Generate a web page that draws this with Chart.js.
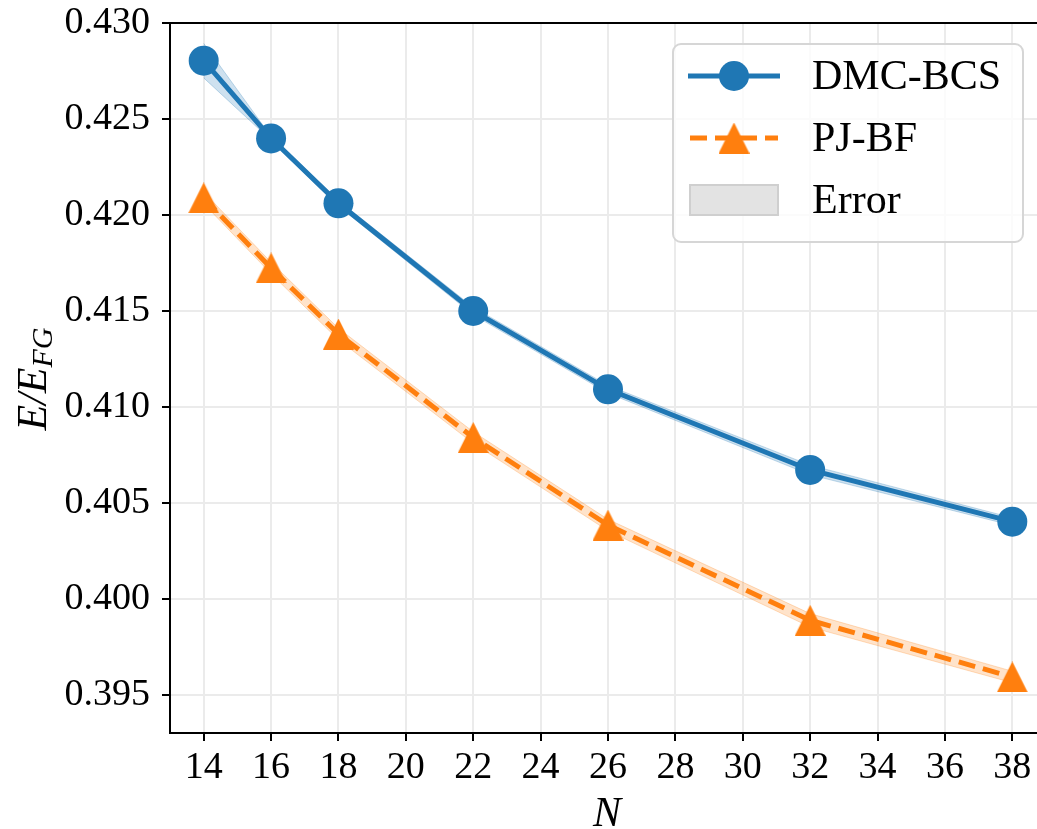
<!DOCTYPE html>
<html>
<head>
<meta charset="utf-8">
<script src="https://cdn.jsdelivr.net/npm/chart.js@4/dist/chart.umd.min.js"></script>
<style>
  html, body { margin: 0; padding: 0; background: #fff; overflow: hidden; }
  #wrap { width: 1037px; height: 829px; overflow: hidden; }
</style>
</head>
<body>
<div id="wrap"><canvas id="chart" width="1050" height="829"></canvas></div>
<script>
// data
const nValues = [14, 16, 18, 22, 26, 32, 38];
const dmcBcs = [0.42804, 0.42399, 0.42061, 0.41500, 0.41092, 0.40672, 0.40403];
const dmcErr = [0.0009, 0.0001, 0.00015, 0.0002, 0.0002, 0.00025, 0.0002];
const pjBf = [0.42089, 0.41724, 0.41380, 0.40841, 0.40385, 0.39889, 0.39594];
const pjErr = [0.0003, 0.0003, 0.0003, 0.0003, 0.0003, 0.00035, 0.0003];
const xTicks = [14, 16, 18, 20, 22, 24, 26, 28, 30, 32, 34, 36, 38];
const yTicks = [0.395, 0.400, 0.405, 0.410, 0.415, 0.420, 0.425, 0.430];

const BLUE = "#1f77b4";
const ORANGE = "#ff7f0e";
const SERIF = "'Liberation Serif', 'DejaVu Serif', serif";

// matplotlib-like "^" marker (as tall as it is wide)
function makeTriangle(size, color) {
  const c = document.createElement("canvas");
  c.width = size; c.height = size;
  const g = c.getContext("2d");
  g.fillStyle = color;
  g.beginPath();
  g.moveTo(size / 2, 0);
  g.lineTo(size, size);
  g.lineTo(0, size);
  g.closePath();
  g.fill();
  return c;
}
const triangle = makeTriangle(31, ORANGE);

const pts = (ys) => nValues.map((x, i) => ({ x: x, y: ys[i] }));
const shifted = (ys, err, sign) => ys.map((v, i) => v + sign * err[i]);

// axis titles, top spine and legend
const extras = {
  id: "extras",
  afterDraw(chart) {
    const ctx = chart.ctx;
    const a = chart.chartArea;
    ctx.save();

    // top spine
    ctx.strokeStyle = "#000";
    ctx.lineWidth = 2;
    ctx.beginPath();
    ctx.moveTo(a.left - 1, a.top);
    ctx.lineTo(a.right + 1, a.top);
    ctx.stroke();

    // x title
    ctx.fillStyle = "#000";
    ctx.font = "italic 42px " + SERIF;
    ctx.textAlign = "center";
    ctx.textBaseline = "alphabetic";
    ctx.fillText("N", 607, 826);

    // y title E/E_FG
    ctx.save();
    ctx.translate(46, 379);
    ctx.rotate(-Math.PI / 2);
    ctx.font = "italic 42px " + SERIF;
    const main = "E/E";
    const wMain = ctx.measureText(main).width;
    ctx.font = "italic 30px " + SERIF;
    const wSub = ctx.measureText("FG").width;
    const start = -(wMain + wSub) / 2;
    ctx.textAlign = "left";
    ctx.font = "italic 42px " + SERIF;
    ctx.fillText(main, start, 0);
    ctx.font = "italic 30px " + SERIF;
    ctx.fillText("FG", start + wMain, 6);
    ctx.restore();

    // legend box
    const bx = 673, by = 44, bw = 350, bh = 198, r = 8;
    ctx.beginPath();
    ctx.moveTo(bx + r, by);
    ctx.arcTo(bx + bw, by, bx + bw, by + bh, r);
    ctx.arcTo(bx + bw, by + bh, bx, by + bh, r);
    ctx.arcTo(bx, by + bh, bx, by, r);
    ctx.arcTo(bx, by, bx + bw, by, r);
    ctx.closePath();
    ctx.fillStyle = "rgba(255,255,255,0.8)";
    ctx.fill();
    ctx.strokeStyle = "#d6d6d6";
    ctx.lineWidth = 2;
    ctx.stroke();

    // entry 1
    ctx.strokeStyle = BLUE;
    ctx.lineWidth = 5;
    ctx.beginPath();
    ctx.moveTo(688, 76);
    ctx.lineTo(780, 76);
    ctx.stroke();
    ctx.fillStyle = BLUE;
    ctx.beginPath();
    ctx.arc(734, 76, 15, 0, Math.PI * 2);
    ctx.fill();

    // entry 2
    ctx.strokeStyle = ORANGE;
    ctx.setLineDash([17, 8]);
    ctx.beginPath();
    ctx.moveTo(690, 138);
    ctx.lineTo(778, 138);
    ctx.stroke();
    ctx.setLineDash([]);
    ctx.drawImage(triangle, 734 - 15.5, 138 - 15.5);

    // entry 3
    ctx.fillStyle = "#e3e3e3";
    ctx.fillRect(690, 185, 88, 30);
    ctx.strokeStyle = "#cfcfcf";
    ctx.lineWidth = 2;
    ctx.strokeRect(690, 185, 88, 30);

    ctx.fillStyle = "#000";
    ctx.font = "42px " + SERIF;
    ctx.textAlign = "left";
    ctx.textBaseline = "middle";
    ctx.fillText("DMC-BCS", 812, 78);
    ctx.fillText("PJ-BF", 812, 140);
    ctx.fillText("Error", 812, 202);

    ctx.restore();
  }
};

new Chart(document.getElementById("chart"), {
  type: "line",
  data: {
    datasets: [
      { data: pts(shifted(dmcBcs, dmcErr, -1)), borderColor: "rgba(31,119,180,0.25)", borderWidth: 1,
        pointRadius: 0, fill: false, order: 2 },
      { data: pts(shifted(dmcBcs, dmcErr, 1)), borderColor: "rgba(31,119,180,0.25)", borderWidth: 1,
        backgroundColor: "rgba(31,119,180,0.22)", pointRadius: 0, fill: "-1", order: 2 },
      { data: pts(shifted(pjBf, pjErr, -1)), borderColor: "rgba(255,127,14,0.25)", borderWidth: 1,
        pointRadius: 0, fill: false, order: 2 },
      { data: pts(shifted(pjBf, pjErr, 1)), borderColor: "rgba(255,127,14,0.25)", borderWidth: 1,
        backgroundColor: "rgba(255,127,14,0.22)", pointRadius: 0, fill: "-1", order: 2 },
      { label: "DMC-BCS", data: pts(dmcBcs), borderColor: BLUE, backgroundColor: BLUE, borderWidth: 5,
        pointStyle: "circle", pointRadius: 15, pointBorderWidth: 0, fill: false, order: 0 },
      { label: "PJ-BF", data: pts(pjBf), borderColor: ORANGE, backgroundColor: ORANGE, borderWidth: 5,
        borderDash: [17, 8], pointStyle: triangle, pointRadius: 15, fill: false, order: 1 }
    ]
  },
  options: {
    responsive: false,
    animation: false,
    events: [],
    layout: { autoPadding: false, padding: { top: 23, right: 4, left: 0, bottom: 0 } },
    plugins: { legend: { display: false }, tooltip: { enabled: false } },
    scales: {
      x: {
        type: "linear",
        min: 13,
        max: 39,
        afterBuildTicks: (s) => { s.ticks = xTicks.map(v => ({ value: v })); },
        afterFit: (s) => { s.height = 96; s.paddingLeft = 0; s.paddingRight = 0; },
        grid: { color: "#ebebeb", lineWidth: 2, tickColor: "#000", tickLength: 8, tickWidth: 2 },
        border: { color: "#000", width: 2 },
        ticks: { color: "#000", font: { family: SERIF, size: 38 }, padding: 4, maxRotation: 0,
                 callback: (v) => String(v) }
      },
      y: {
        min: 0.393021,
        max: 0.430,
        afterBuildTicks: (s) => { s.ticks = yTicks.map(v => ({ value: v })); },
        afterFit: (s) => { s.width = 170; s.paddingTop = 0; s.paddingBottom = 0; },
        grid: { color: "#ebebeb", lineWidth: 2, tickColor: "#000", tickLength: 8, tickWidth: 2 },
        border: { color: "#000", width: 2 },
        ticks: { color: "#000", font: { family: SERIF, size: 38 }, padding: 12,
                 callback: (v) => v.toFixed(3) }
      }
    }
  },
  plugins: [extras]
});
</script>
</body>
</html>
